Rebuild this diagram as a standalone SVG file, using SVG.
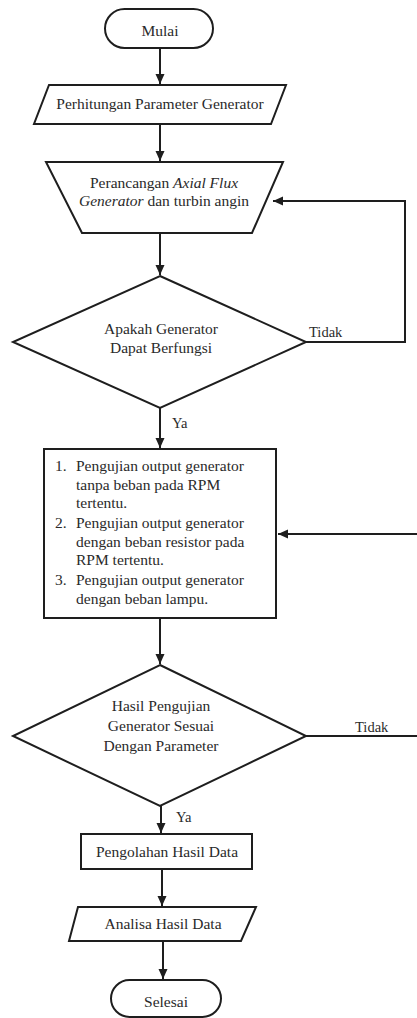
<svg xmlns="http://www.w3.org/2000/svg" width="417" height="1018" viewBox="0 0 417 1018">
<style>
.s{fill:#fff;stroke:#1e1e1e;stroke-width:2}
.c{fill:none;stroke:#1e1e1e;stroke-width:2}
text{font-size:15.5px;fill:#2a2a2a}
.m{text-anchor:middle}
.l{font-size:14.5px}
</style>
<defs>
<marker id="ah" markerUnits="userSpaceOnUse" markerWidth="10" markerHeight="10" viewBox="0 0 10 10" refX="10" refY="5" orient="auto">
<path d="M0,0.5 L10,5 L0,9.5 Z" fill="#1e1e1e"/>
</marker>
</defs>
<g font-family="'Liberation Serif', 'DejaVu Serif', serif">
<g id="connectors">
<path class="c" d="M160,48 V84" marker-end="url(#ah)"/>
<path class="c" d="M160,124 V161" marker-end="url(#ah)"/>
<path class="c" d="M160,233 V275" marker-end="url(#ah)"/>
<path class="c" d="M306,342 H405 V201 H273" marker-end="url(#ah)"/>
<path class="c" d="M160,408 V448" marker-end="url(#ah)"/>
<path class="c" d="M160,618 V664" marker-end="url(#ah)"/>
<path class="c" d="M306,736 H419 V534 H278" marker-end="url(#ah)"/>
<path class="c" d="M161,806 V833" marker-end="url(#ah)"/>
<path class="c" d="M162,869 V906" marker-end="url(#ah)"/>
<path class="c" d="M163,941 V979" marker-end="url(#ah)"/>
<text class="l" x="309" y="337">Tidak</text>
<text class="l" x="172" y="428">Ya</text>
<text class="l" x="355" y="732">Tidak</text>
<text class="l" x="176" y="822">Ya</text>
</g>
<g id="start">
<rect class="s" x="105" y="9" width="108" height="39" rx="19.5"/>
<text class="m" x="160" y="36">Mulai</text>
</g>
<g id="param">
<polygon class="s" points="49,85 286,85 271,124 34,124"/>
<text class="m" x="160" y="109">Perhitungan Parameter Generator</text>
</g>
<g id="design">
<polygon class="s" points="46,162 283,162 252,233 82,233"/>
<text class="m" x="164" y="188">Perancangan <tspan font-style="italic">Axial Flux</tspan></text>
<text class="m" x="164" y="206"><tspan font-style="italic">Generator</tspan> dan turbin angin</text>
</g>
<g id="decision1">
<polygon class="s" points="160,276 306,342 160,408 13,342"/>
<text class="m" x="161" y="334">Apakah Generator</text>
<text class="m" x="161" y="353">Dapat Berfungsi</text>
</g>
<g id="testing">
<rect class="s" x="44" y="449" width="232" height="169"/>
<text x="55" y="471">1.</text><text x="76" y="471">Pengujian output generator</text>
<text x="76" y="490">tanpa beban pada RPM</text>
<text x="76" y="508">tertentu.</text>
<text x="55" y="528">2.</text><text x="76" y="528">Pengujian output generator</text>
<text x="76" y="547">dengan beban resistor pada</text>
<text x="76" y="565">RPM tertentu.</text>
<text x="55" y="585">3.</text><text x="76" y="585">Pengujian output generator</text>
<text x="76" y="604">dengan beban lampu.</text>
</g>
<g id="decision2">
<polygon class="s" points="160,665 306,736 160,806 13,736"/>
<text class="m" x="161" y="711">Hasil Pengujian</text>
<text class="m" x="161" y="731">Generator Sesuai</text>
<text class="m" x="161" y="751">Dengan Parameter</text>
</g>
<g id="process">
<rect class="s" x="81" y="834" width="171" height="35"/>
<text class="m" x="167" y="857">Pengolahan Hasil Data</text>
</g>
<g id="analysis">
<polygon class="s" points="78,907 256,907 241,941 69,941"/>
<text class="m" x="163" y="929">Analisa Hasil Data</text>
</g>
<g id="end">
<rect class="s" x="111" y="980" width="110" height="37" rx="18.5"/>
<text class="m" x="166" y="1007">Selesai</text>
</g>
</g>
</svg>
